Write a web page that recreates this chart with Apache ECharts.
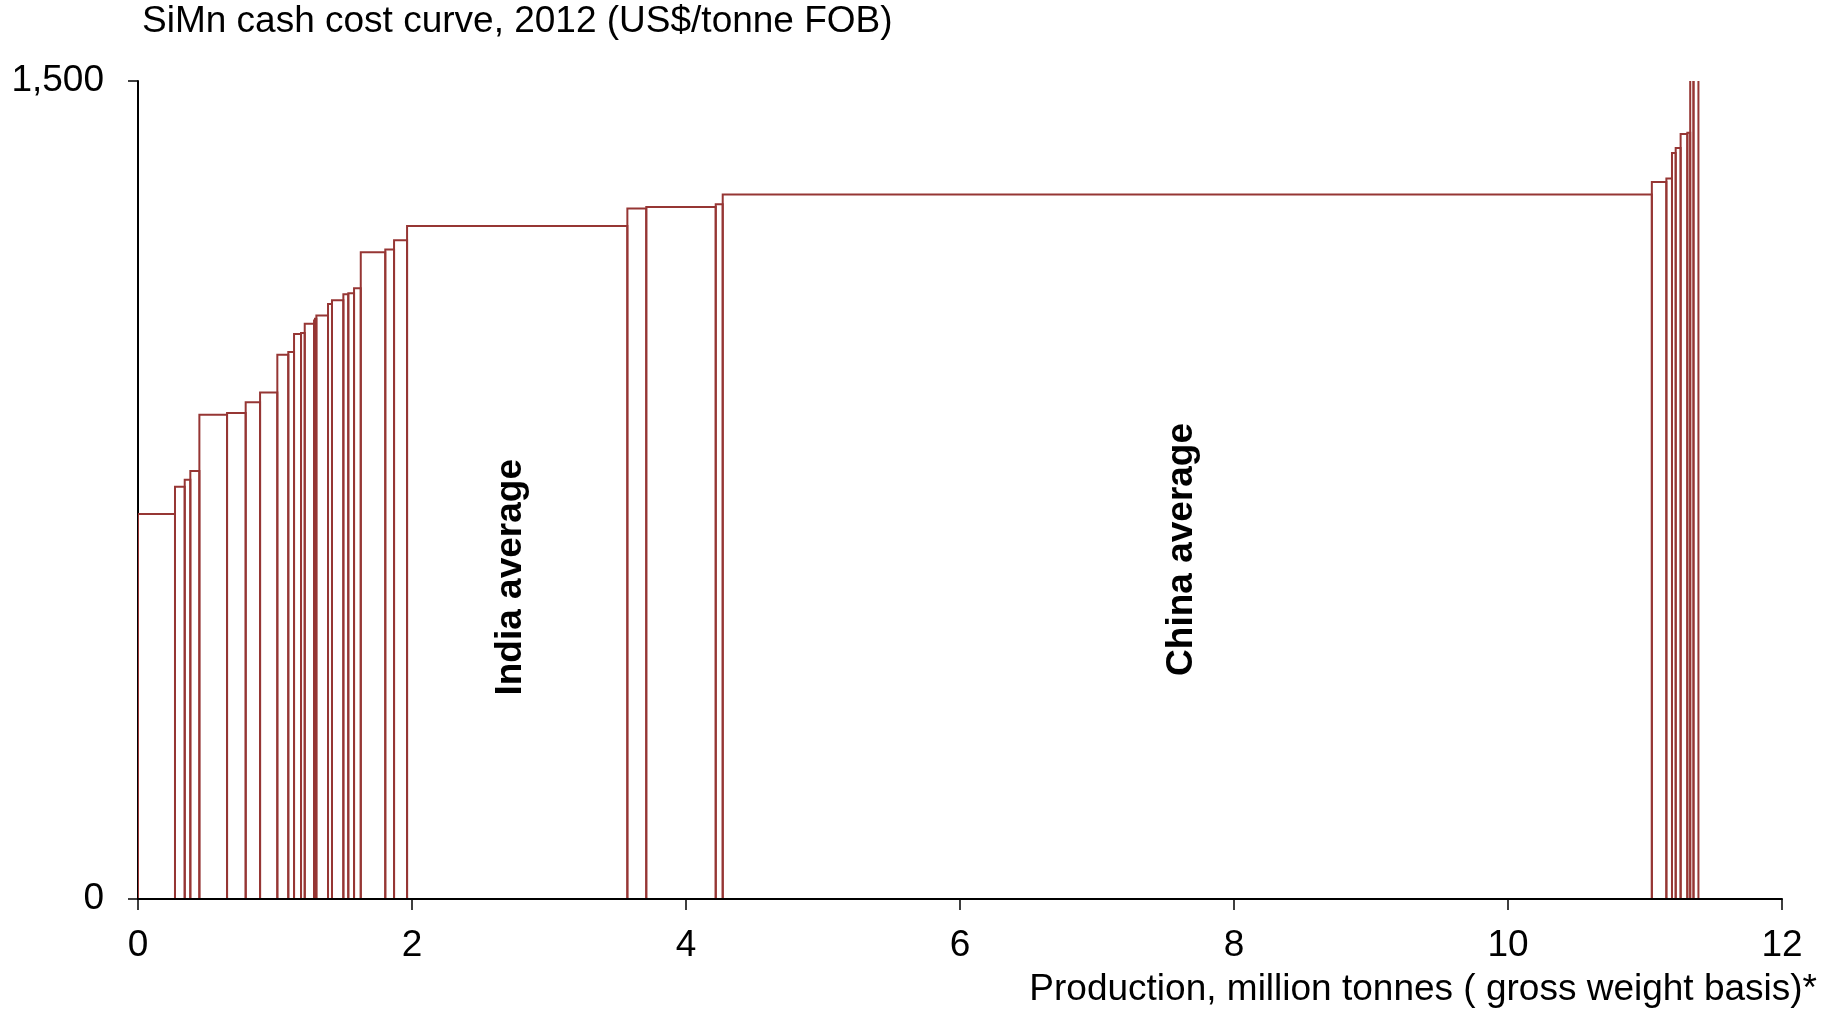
<!DOCTYPE html>
<html>
<head>
<meta charset="utf-8">
<title>SiMn cash cost curve, 2012</title>
<script src="https://cdn.jsdelivr.net/npm/echarts@6/dist/echarts.min.js"></script>
<style>
  html, body { margin: 0; padding: 0; background: #ffffff; }
  #chart { width: 1832px; height: 1010px; }
</style>
</head>
<body>
<div id="chart"></div>
<script>
// Producer capacity (million tonnes, gross weight) in cost order
const capacities = [
  0.270, 0.071, 0.041, 0.066, 0.202, 0.136, 0.105, 0.126, 0.080, 0.042,
  0.051, 0.027, 0.068, 0.007, 0.010, 0.085, 0.029, 0.083, 0.036, 0.042,
  0.049, 0.179, 0.064, 0.095, 1.608, 0.138, 0.507, 0.051, 6.782, 0.106,
  0.041, 0.027, 0.036, 0.049, 0.021, 0.024, 0.036
];
// Cash cost of each producer (US$/tonne FOB)
const cashCosts = [
  706, 756, 769, 785, 888, 891, 911, 929, 998, 1003,
  1036, 1038, 1055, 1061, 1064, 1070, 1091, 1098, 1109, 1111,
  1120, 1186, 1191, 1208, 1234, 1266, 1269, 1274, 1292, 1315,
  1321, 1368, 1377, 1403, 1405, 1560, 1650
];
const xTicks = [0, 2, 4, 6, 8, 10, 12];
const yTicks = [0, 1500];
const annotations = [
  { name: 'India average', x: 2.72, y: 590 },
  { name: 'China average', x: 7.62, y: 641 }
];

const FONT = 'Liberation Sans, Arial, Helvetica, sans-serif';
const BAR_COLOR = '#963634';

// Cumulative start/end of each block along the production axis
const blocks = [];
let cum = 0;
capacities.forEach((w, i) => {
  blocks.push([cum, cum + w, cashCosts[i]]);
  cum += w;
});

const chart = echarts.init(document.getElementById('chart'), null, { renderer: 'canvas' });

chart.setOption({
  animation: false,
  backgroundColor: '#ffffff',
  title: [
    {
      text: 'SiMn cash cost curve, 2012 (US$/tonne FOB)',
      left: 142, top: 3, padding: 0,
      textStyle: { fontFamily: FONT, fontSize: 37, fontWeight: 'normal', color: '#000' }
    },
    {
      text: 'Production, million tonnes ( gross weight basis)*',
      right: 15, top: 971, padding: 0,
      textStyle: { fontFamily: FONT, fontSize: 37, fontWeight: 'normal', color: '#000' }
    }
  ],
  grid: { left: 138, right: 50, top: 81, bottom: 111, containLabel: false },
  xAxis: {
    type: 'value',
    min: xTicks[0], max: xTicks[xTicks.length - 1], interval: 2,
    z: 10,
    axisLine: { show: true, lineStyle: { color: '#000', width: 2 } },
    axisTick: { show: true, inside: false, length: 11, lineStyle: { color: '#000', width: 1.5 } },
    axisLabel: { margin: 28, fontFamily: FONT, fontSize: 37, color: '#000' },
    splitLine: { show: false }
  },
  yAxis: {
    type: 'value',
    min: yTicks[0], max: yTicks[yTicks.length - 1], interval: 1500,
    z: 0,
    axisLine: { show: true, lineStyle: { color: '#000', width: 2 } },
    axisTick: { show: true, inside: false, length: 10, lineStyle: { color: '#000', width: 1.5 } },
    axisLabel: {
      margin: 34, fontFamily: FONT, fontSize: 37, color: '#000',
      formatter: v => v.toLocaleString('en-US')
    },
    splitLine: { show: false }
  },
  series: [
    {
      type: 'custom',
      clip: true,
      z: 2,
      data: blocks,
      renderItem: function (params, api) {
        const base = api.coord([api.value(0), 0]);
        const top = api.coord([api.value(1), api.value(2)]);
        return {
          type: 'rect',
          shape: { x: base[0], y: top[1], width: top[0] - base[0], height: base[1] - top[1] },
          style: { fill: 'none', stroke: BAR_COLOR, lineWidth: 2 }
        };
      }
    },
    {
      type: 'scatter',
      symbolSize: 0,
      z: 5,
      silent: true,
      itemStyle: { opacity: 1 },
      data: annotations.map(a => ({ name: a.name, value: [a.x, a.y] })),
      label: {
        show: true,
        position: 'inside',
        rotate: 90,
        formatter: p => p.name,
        fontFamily: FONT, fontSize: 37, fontWeight: 'bold', color: '#000',
        opacity: 1,
        textBorderWidth: 0
      }
    }
  ]
});
</script>
</body>
</html>
